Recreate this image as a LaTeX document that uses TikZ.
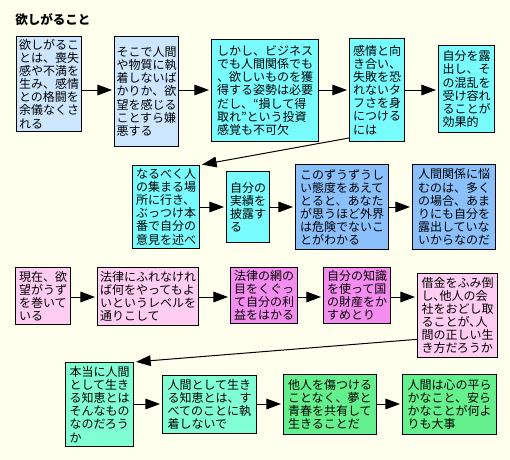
\documentclass[tikz,border=0pt]{standalone}
\usepackage{fontspec}
\usepackage{xcolor}
\usepackage{tikz}
\usetikzlibrary{arrows.meta, positioning, calc}
\newfontfamily\cjk{Noto Sans CJK JP}
\definecolor{bgivory}{RGB}{255,255,238}
\definecolor{hdrblue}{RGB}{204,230,255}
\definecolor{hdrcyan}{RGB}{120,252,255}
\definecolor{midblue}{RGB}{138,192,252}
\definecolor{hdrpink}{RGB}{255,204,242}
\definecolor{mypink}{RGB}{245,140,240}
\definecolor{hdraqua}{RGB}{128,255,212}
\definecolor{mygreen}{RGB}{100,240,140}
\tikzset{
  box/.style 2 args={rectangle, draw=black, line width=0.75pt,
    anchor=north west, align=left, inner sep=1.5pt,
    font=\cjk\fontsize{9}{9.8}\selectfont,
    minimum width=#1*0.75pt, minimum height=#2*0.75pt},
  arrow/.style={-{Triangle[length=11pt, width=8pt]}, line width=0.75pt,
    shorten >=1.5pt, color=black},
  title/.style={anchor=west, inner sep=0pt,
    font=\cjk\bfseries\fontsize{9.4}{10}\selectfont}
}

\begin{document}
\begin{tikzpicture}[x=0.75pt, y=-0.75pt]
  \fill[bgivory] (0,0) rectangle (510,460);
  \useasboundingbox (0,0) rectangle (510,460);
  \node[title] (ttl) at (15,20) {欲しがること};

  % Row 1
  \node[box={65}{95}, fill=hdrblue] (b1) at (16,36) {欲しがるこ\\とは、喪失\\感や不満を\\生み、感情\\との格闘を\\余儀なくさ\\れる};
  \node[box={64}{110}, fill=hdrblue] (b2) at (114,36) {そこで人間\\や物質に執\\着しないば\\かりか、欲\\望を感じる\\ことすら嫌\\悪する};
  \node[box={107}{102}, fill=hdrcyan] (b3) at (211,39) {しかし、ビジネス\\でも人間関係でも\\、欲しいものを獲\\得する姿勢は必要\\だし、“損して得\\取れ”という投資\\感覚も不可欠};
  \node[box={55}{103}, fill=hdrcyan] (b4) at (349,38) {感情と向\\き合い、\\失敗を恐\\れないタ\\フさを身\\につける\\には};
  \node[box={56}{87}, fill=hdrcyan] (b5) at (438,45) {自分を露\\出し、そ\\の混乱を\\受け容れ\\ることが\\効果的};
  \coordinate (r1) at (0,90);
  \draw[arrow] (b1.east |- r1) -- (b2.west |- r1);
  \draw[arrow] (b2.east |- r1) -- (b3.west |- r1);
  \draw[arrow] (b3.east |- r1) -- (b4.west |- r1);
  \draw[arrow] (b4.east |- r1) -- (b5.west |- r1);

  % Row 2
  \node[box={67}{83}, fill=hdrcyan] (b6) at (132,165) {なるべく人\\の集まる場\\所に行き、\\ぶっつけ本\\番で自分の\\意見を述べ};
  \node[box={43}{71}, fill=hdrcyan] (b7) at (226,171) {自分の\\実績を\\披露す\\る};
  \node[box={93}{85}, fill=midblue] (b8) at (295,164) {このずうずうし\\い態度をあえて\\とると、あなた\\が思うほど外界\\は危険でないこ\\とがわかる};
  \node[box={83}{85}, fill=midblue] (b9) at (412,164) {人間関係に悩\\むのは、多く\\の場合、あま\\りにも自分を\\露出していな\\いからなのだ};
  \coordinate (r2) at (0,207);
  \draw[arrow] ([yshift=3pt]b4.south west) -- (b6.north east);
  \draw[arrow] (b6.east |- r2) -- (b7.west |- r2);
  \draw[arrow] (b7.east |- r2) -- (b8.west |- r2);
  \draw[arrow] (b8.east |- r2) -- (b9.west |- r2);

  % Row 3
  \node[box={55}{57}, fill=hdrpink] (b10) at (15,267) {現在、欲\\望がうず\\を巻いて\\いる};
  \node[box={101}{58}, fill=hdrpink] (b11) at (97,267) {法律にふれなけれ\\ば何をやってもよ\\いというレベルを\\通りこして};
  \node[box={67}{56}, fill=mypink] (b12) at (230,267) {法律の網の\\目をくぐっ\\て自分の利\\益をはかる};
  \node[box={67}{56}, fill=mypink] (b13) at (323,267) {自分の知識\\を使って国\\の財産をか\\すめとり};
  \node[box={80}{84}, fill=hdrpink] (b14) at (417,273) {借金をふみ倒\\し､他人の会\\社をおどし取\\ることが､人\\間の正しい生\\き方だろうか};
  \coordinate (r3) at (0,297);
  \draw[arrow] (b10.east |- r3) -- (b11.west |- r3);
  \draw[arrow] (b11.east |- r3) -- (b12.west |- r3);
  \draw[arrow] (b12.east |- r3) -- (b13.west |- r3);
  \draw[arrow] (b13.east |- r3) -- (b14.west |- r3);

  % Row 4
  \node[box={68}{84}, fill=hdraqua] (b15) at (65,362) {本当に人間\\として生き\\る知恵とは\\そんなもの\\なのだろう\\か};
  \node[box={94}{58}, fill=hdraqua] (b16) at (162,375) {人間として生き\\る知恵とは、す\\べてのことに執\\着しないで};
  \node[box={93}{60}, fill=mygreen] (b17) at (283,374) {他人を傷つける\\ことなく、夢と\\青春を共有して\\生きることだ};
  \node[box={94}{60}, fill=mygreen] (b18) at (402,374) {人間は心の平ら\\かなこと、安ら\\かなことが何よ\\りも大事};
  \coordinate (r4) at (0,404);
  \draw[arrow] ([yshift=14pt]b14.south west) -- (b15.north east);
  \draw[arrow] (b15.east |- r4) -- (b16.west |- r4);
  \draw[arrow] (b16.east |- r4) -- (b17.west |- r4);
  \draw[arrow] (b17.east |- r4) -- (b18.west |- r4);
\end{tikzpicture}
\end{document}
